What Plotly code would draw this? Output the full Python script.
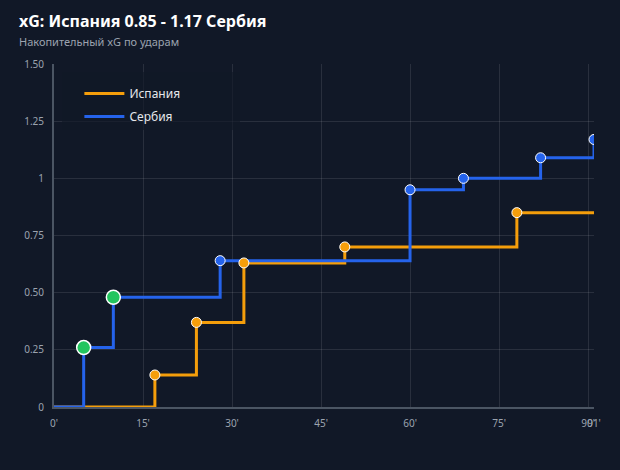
import plotly.graph_objects as go

match_end = 91
spain_name = "Испания"
serbia_name = "Сербия"
spain_minutes = [17, 24, 32, 49, 78]
spain_xg_cum = [0.14, 0.37, 0.63, 0.70, 0.85]
spain_goals = [False, False, False, False, False]
serbia_minutes = [5, 10, 28, 60, 69, 82, 91]
serbia_xg_cum = [0.26, 0.48, 0.64, 0.95, 1.00, 1.09, 1.17]
serbia_goals = [True, True, False, False, False, False, False]
x_tickvals = [0, 15, 30, 45, 60, 75, 90, 91]
x_ticktext = ["0'", "15'", "30'", "45'", "60'", "75'", "90'", "91'"]
y_tickvals = [0, 0.25, 0.5, 0.75, 1, 1.25, 1.5]
y_ticktext = ["0", "0.25", "0.50", "0.75", "1", "1.25", "1.50"]
title_text = "xG: Испания 0.85 - 1.17 Сербия"
subtitle_text = "Накопительный xG по ударам"

ORANGE = "#f59e0b"
BLUE = "#2563eb"
GREEN = "#22c55e"
BG = "#111827"
FONT = "Noto Sans"

fig = go.Figure()

def step_series(mins, vals):
    xs = [0] + list(mins)
    ys = [0] + list(vals)
    if xs[-1] < match_end:
        xs.append(match_end)
        ys.append(ys[-1])
    return xs, ys

for name, mins, vals, color in [
    (spain_name, spain_minutes, spain_xg_cum, ORANGE),
    (serbia_name, serbia_minutes, serbia_xg_cum, BLUE),
]:
    xs, ys = step_series(mins, vals)
    fig.add_trace(go.Scatter(x=xs, y=ys, mode="lines", name=name, legendgroup=name,
                             line=dict(color=color, width=3, shape="hv"),
                             hoverinfo="skip"))

for mins, vals, goals, color in [
    (spain_minutes, spain_xg_cum, spain_goals, ORANGE),
    (serbia_minutes, serbia_xg_cum, serbia_goals, BLUE),
]:
    fig.add_trace(go.Scatter(
        x=mins, y=vals, mode="markers", showlegend=False,
        marker=dict(
            opacity=1,
            color=[GREEN if g else color for g in goals],
            size=[14 if g else 10 for g in goals],
            line=dict(color="white", width=[1.5 if g else 1 for g in goals]),
        ),
    ))

fig.update_layout(
    width=620, height=470,
    paper_bgcolor=BG, plot_bgcolor=BG,
    margin=dict(l=54, r=26, t=64, b=63),
    font=dict(family=FONT, color="#9ca3af", size=10),
    legend=dict(
        x=0.047, y=0.956, xanchor="left", yanchor="top",
        bgcolor="rgba(0,0,0,0)", borderwidth=0,
        font=dict(size=12, color="#e5e7eb"),
        tracegroupgap=4, itemwidth=40,
    ),
    showlegend=True,
    shapes=[dict(type="rect", xref="paper", yref="paper",
                 x0=(62 - 54) / 540, x1=(240 - 54) / 540,
                 y0=1 - (130 - 64) / 343, y1=1 - (72 - 64) / 343,
                 fillcolor="rgba(17,24,39,0.65)", line=dict(width=0), layer="above")],
    annotations=[
        dict(text="<b>" + title_text + "</b>", xref="paper", yref="paper", x=0, y=1,
             xanchor="left", yanchor="middle", xshift=-37, yshift=43, showarrow=False,
             font=dict(size=16, color="white", family=FONT)),
        dict(text=subtitle_text, xref="paper", yref="paper", x=0, y=1,
             xanchor="left", yanchor="middle", xshift=-37, yshift=23, showarrow=False,
             font=dict(size=11, color="#9ca3af", family=FONT)),
    ],
)
fig.update_xaxes(
    range=[0, match_end], tickvals=x_tickvals, ticktext=x_ticktext, tickangle=0,
    showgrid=True, gridcolor="rgba(255,255,255,0.1)", gridwidth=1,
    showline=True, linecolor="#4b5563", linewidth=2,
    zeroline=False, ticks="", ticklabelstandoff=6, tickfont=dict(size=10, color="#9ca3af"),
)
fig.update_yaxes(
    range=[0, 1.5], tickvals=y_tickvals, ticktext=y_ticktext,
    showgrid=True, gridcolor="rgba(255,255,255,0.1)", gridwidth=1,
    showline=True, linecolor="#4b5563", linewidth=2,
    zeroline=False, ticks="", ticklabelstandoff=6, tickfont=dict(size=10, color="#9ca3af"),
)

fig.write_html("out.html")
